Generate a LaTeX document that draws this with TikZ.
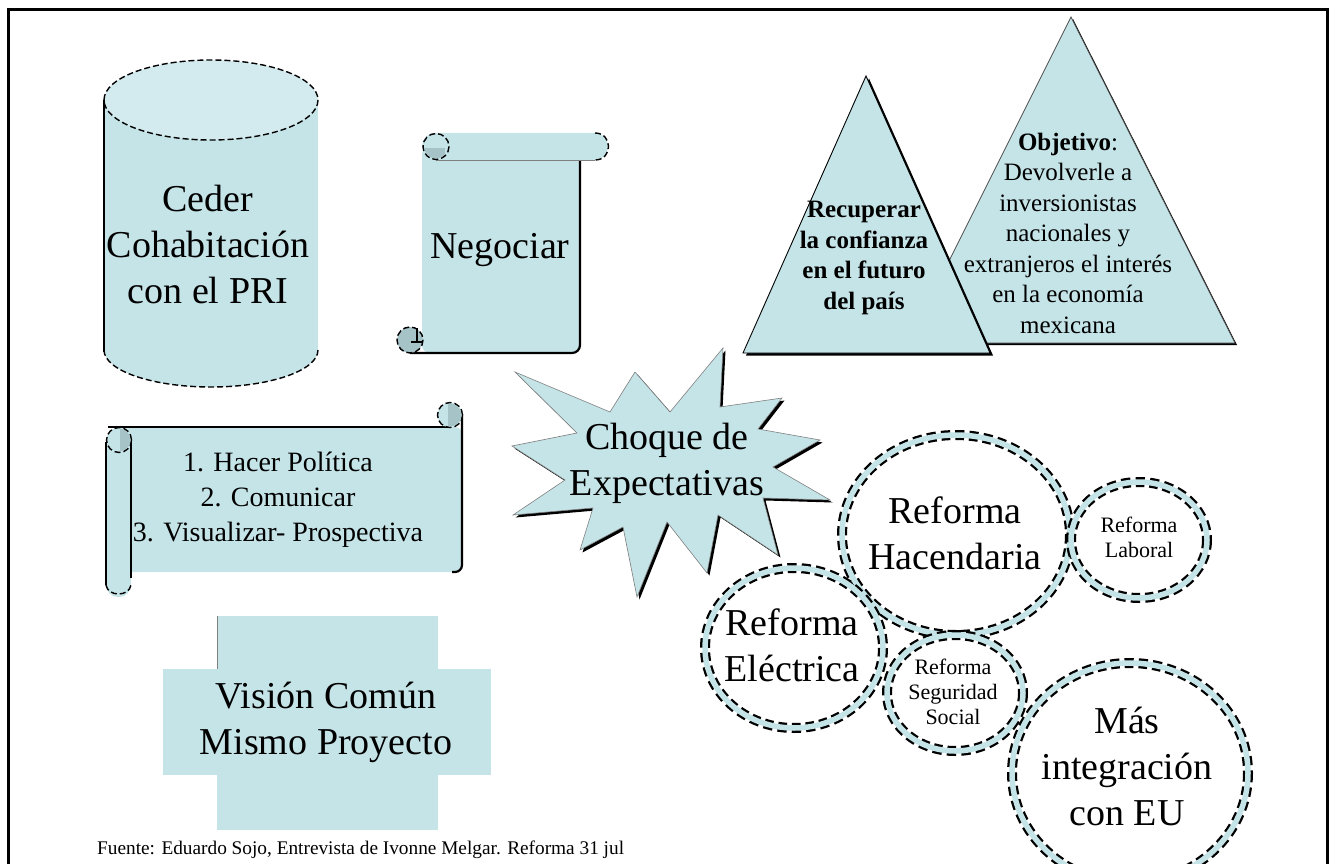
\documentclass[tikz,border=0pt]{standalone}
\usepackage{fontspec}
\setmainfont{Liberation Serif}
\definecolor{celeste}{HTML}{C5E4E8}
\definecolor{celesteclaro}{HTML}{D3EBEE}
\definecolor{celesteosc}{HTML}{A6C3C7}
\begin{document}
\begin{tikzpicture}[x=1pt,y=-1pt,
	relleno/.style={fill=celeste},
	borde/.style={draw=black,line width=1.4pt,dash pattern=on 6pt off 3pt},
	filo/.style={draw=black,line width=2.2pt},
	aronegro/.style={draw=black,fill=white,line width=10pt,dash pattern=on 9pt off 5pt},
	arocel/.style={draw=celeste,line width=5.5pt},
	txt/.style={align=center,inner sep=0pt},
	grande/.style={txt,font=\fontsize{38}{46}\selectfont},
	mediana/.style={txt,font=\fontsize{28}{35}\selectfont},
	tri/.style={txt,font=\fontsize{25}{30.5}\selectfont},
	chica/.style={txt,font=\fontsize{22}{25}\selectfont}]
	\useasboundingbox (0,0) rectangle (1334,864);
	\draw[line width=3pt] (8,864) -- (8,10) -- (1327,10) -- (1327,864);
	% cilindro
	\fill[relleno] (104,100) rectangle (318,350);
	\fill[relleno] (211,350) ellipse [x radius=107, y radius=37];
	\draw[borde] (104,350) arc[start angle=180, end angle=0, x radius=107, y radius=37];
	\filldraw[fill=celesteclaro,borde] (211,100) ellipse [x radius=107, y radius=40];
	\draw[filo] (104,100) -- (104,352);
	\node[grande] (ceder) at (208,245) {Ceder\\Cohabitación\\con el PRI};
	% pergamino vertical
	\fill[relleno,rounded corners=8] (422,147) rectangle (580,353);
	\draw[filo,rounded corners=8] (580,160) -- (580,353) -- (410,353);
	\fill[relleno,rounded corners=13] (422,133) rectangle (608,160);
	\draw[borde] (595,133) .. controls (613,133) and (613,160) .. (595,160);
	\draw[gray,line width=.8pt] (436,160) -- (595,160);
	\filldraw[relleno,borde] (436,146.5) circle (13);
	\begin{scope}
		\clip (436,146.5) circle (12);
		\fill[celesteosc] (424,148) rectangle (445,160);
	\end{scope}
	\filldraw[fill=celesteosc,borde] (410,340) circle (13);
	\draw[line width=1.2pt] (417,328) -- (417,342) (411,342) -- (423,342);
	\node[grande] (negociar) at (500,250) {Negociar};
	% pergamino horizontal
	\fill[relleno,rounded corners=7] (120,427) rectangle (462,572);
	\draw[filo] (108,427) -- (450,427);
	\draw[filo,rounded corners=7] (462,414) -- (462,572) -- (452,572);
	\filldraw[relleno,borde] (450,415) circle (12.5);
	\begin{scope}
		\clip (450,415) circle (11.5);
		\fill[celesteosc] (448,404) rectangle (463,428);
	\end{scope}
	\fill[relleno,rounded corners=12] (106,430) rectangle (131,597);
	\draw[filo] (106,442) -- (106,585);
	\draw[filo] (131,442) -- (131,578);
	\draw[borde] (106,585) .. controls (108,597) and (129,597) .. (131,585);
	\filldraw[relleno,borde] (119,440) circle (12.5);
	\begin{scope}
		\clip (119,440) circle (11.5);
		\fill[celesteosc] (120,428) rectangle (132,453);
	\end{scope}
	\node[mediana] (pasos) at (278,500) {1. Hacer Política\\2. Comunicar\\3. Visualizar- Prospectiva};
	% cruz
	\fill[relleno] (217,616) rectangle (438,830);
	\fill[relleno] (163,669) rectangle (491,775);
	\draw[gray,line width=.8pt] (217,616) -- (217,669);
	\node[grande] (vision) at (326,722) {Visión Común\\Mismo Proyecto};
	% estrella
	\fill[black,shift={(2.5,2.5)}] (515,372) -- (610,412) -- (635,372) -- (670,412) -- (723,348) -- (720,407) -- (782,398) -- (758,429) -- (820,440) -- (773,467) -- (830,500) -- (763,498) -- (778,555) -- (718,515) -- (707,573) -- (667,522) -- (637,597) -- (623,527) -- (580,550) -- (593,508) -- (513,515) -- (565,480) -- (512,446) -- (577,433) -- cycle;
	\filldraw[relleno,draw=gray,line width=.6pt] (515,372) -- (610,412) -- (635,372) -- (670,412) -- (723,348) -- (720,407) -- (782,398) -- (758,429) -- (820,440) -- (773,467) -- (830,500) -- (763,498) -- (778,555) -- (718,515) -- (707,573) -- (667,522) -- (637,597) -- (623,527) -- (580,550) -- (593,508) -- (513,515) -- (565,480) -- (512,446) -- (577,433) -- cycle;
	\node[grande] (choque) at (667,463) {Choque de\\Expectativas};
	% triangulos
	\fill[black,shift={(2,2)}] (1071,17) -- (1235,343) -- (908,343) -- cycle;
	\filldraw[relleno,draw=black!70,line width=.8pt] (1071,17) -- (1235,343) -- (908,343) -- cycle;
	\fill[black,shift={(3,2.5)}] (866,76) -- (990,353) -- (743,353) -- cycle;
	\filldraw[relleno,draw=black,line width=.9pt] (866,76) -- (990,353) -- (743,353) -- cycle;
	\node[tri,font=\fontsize{25}{30.5}\selectfont\bfseries] (recuperar) at (864,258) {Recuperar\\la confianza\\en el futuro\\del país};
	\node[tri] (objetivo) at (1068,233) {\textbf{Objetivo}:\\Devolverle a\\inversionistas\\nacionales y\\extranjeros el interés\\en la economía\\mexicana};
	% reformas
	\foreach \cx/\cy/\rx/\ry in {956/535/114/100, 1139/540/68/58, 794/648/89/80, 955/693/68/58, 1130/773/118/110}{
		\draw[aronegro] (\cx,\cy) ellipse [x radius=\rx, y radius=\ry];
		\draw[arocel] (\cx,\cy) ellipse [x radius=\rx, y radius=\ry];
	}
	\node[grande] (hacendaria) at (955,533) {Reforma\\Hacendaria};
	\node[chica] (laboral) at (1139,537) {Reforma\\Laboral};
	\node[grande] (electrica) at (792,645) {Reforma\\Eléctrica};
	\node[chica] (seguridad) at (953,692) {Reforma\\Seguridad\\Social};
	\node[grande] (integracion) at (1127,766) {Más\\integración\\con EU};
	\node[anchor=base west,inner sep=0pt,font=\fontsize{19.3}{22}\selectfont] (fuente) at (97,854) {Fuente: Eduardo Sojo, Entrevista de Ivonne Melgar. Reforma 31 jul};
\end{tikzpicture}
\end{document}
